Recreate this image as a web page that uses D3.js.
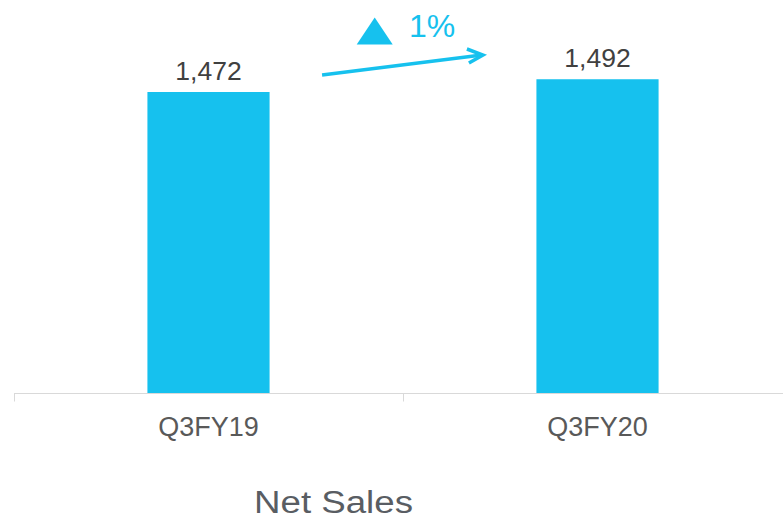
<!DOCTYPE html>
<html>
<head>
<meta charset="utf-8">
<script src="https://cdn.jsdelivr.net/npm/d3@7"></script>
<style>
  html, body { margin: 0; padding: 0; background: #ffffff; }
  svg { display: block; font-family: Arial, "Liberation Sans", sans-serif; }
</style>
</head>
<body>
<svg id="chart" width="783" height="522"></svg>
<script>
const categories = ["Q3FY19", "Q3FY20"];
const values = [1472, 1492];
const valueLabels = ["1,472", "1,492"];
const changeLabel = "1%";
const titleText = "Net Sales";
const yDomain = [1000, 1600];

const svg = d3.select("#chart");
const W = 783, H = 522;
const baseY = 393;
const barColor = "#16C1EE";

const x = d3.scaleBand().domain(categories).range([14, 792]).padding(0);
const barW = x.bandwidth() * 0.314;
const y = d3.scaleLinear().domain(yDomain).range([baseY, baseY - 600 * (301 / 472)]);

// bars
svg.selectAll("rect.bar").data(categories).join("rect")
  .attr("class", "bar")
  .attr("x", (d) => x(d) + x.bandwidth() / 2 - barW / 2)
  .attr("width", barW)
  .attr("y", (d, i) => y(values[i]))
  .attr("height", (d, i) => baseY - y(values[i]))
  .attr("fill", barColor);

// value labels
svg.selectAll("text.val").data(categories).join("text")
  .attr("class", "val")
  .attr("x", (d) => x(d) + x.bandwidth() / 2)
  .attr("y", (d, i) => y(values[i]) - 12.5)
  .attr("text-anchor", "middle")
  .attr("font-size", 26.5)
  .attr("fill", "#404040")
  .text((d, i) => valueLabels[i]);

// x axis
const gx = svg.append("g").attr("transform", `translate(0,${baseY + 0.5})`);
gx.append("line").attr("x1", 14).attr("x2", W).attr("y1", 0).attr("y2", 0)
  .attr("stroke", "#d9d9d9").attr("stroke-width", 1);
const bounds = categories.map((c) => x(c)).concat([x.range()[1]]);
gx.selectAll("line.tk").data(bounds).join("line")
  .attr("class", "tk")
  .attr("x1", (d) => Math.round(d) + 0.5).attr("x2", (d) => Math.round(d) + 0.5)
  .attr("y1", 0).attr("y2", 8)
  .attr("stroke", "#d9d9d9").attr("stroke-width", 1);

svg.selectAll("text.cat").data(categories).join("text")
  .attr("class", "cat")
  .attr("x", (d) => x(d) + x.bandwidth() / 2)
  .attr("y", 436)
  .attr("text-anchor", "middle")
  .attr("font-size", 27)
  .attr("fill", "#595959")
  .text((d) => d);

// title
svg.append("text")
  .attr("x", 333.5).attr("y", 513)
  .attr("text-anchor", "middle")
  .attr("font-size", 31)
  .attr("textLength", 159)
  .attr("lengthAdjust", "spacingAndGlyphs")
  .attr("fill", "#595d63")
  .text(titleText);

// growth arrow
const ax1 = x(categories[0]) + x.bandwidth() / 2 + barW / 2 + 52.5;
const ax2 = x(categories[1]) + x.bandwidth() / 2 - barW / 2 - 53.5;
const ay1 = 75, ay2 = 55;
svg.append("line")
  .attr("x1", ax1).attr("y1", ay1).attr("x2", ax2 - 1).attr("y2", ay2 + 0.1)
  .attr("stroke", barColor).attr("stroke-width", 3.5).attr("stroke-linecap", "butt");
svg.append("path")
  .attr("d", `M${ax2 - 16},${ay2 - 6} L${ax2},${ay2} L${ax2 - 14},${ay2 + 8}`)
  .attr("fill", "none").attr("stroke", barColor).attr("stroke-width", 3.5)
  .attr("stroke-linejoin", "miter");

// triangle + percent
svg.append("path")
  .attr("d", "M374.7,17.5 L392.7,44.5 L356.7,44.5 Z")
  .attr("fill", barColor);
svg.append("text")
  .attr("x", 409).attr("y", 37)
  .attr("font-size", 32)
  .attr("fill", barColor)
  .text(changeLabel);
</script>
</body>
</html>
